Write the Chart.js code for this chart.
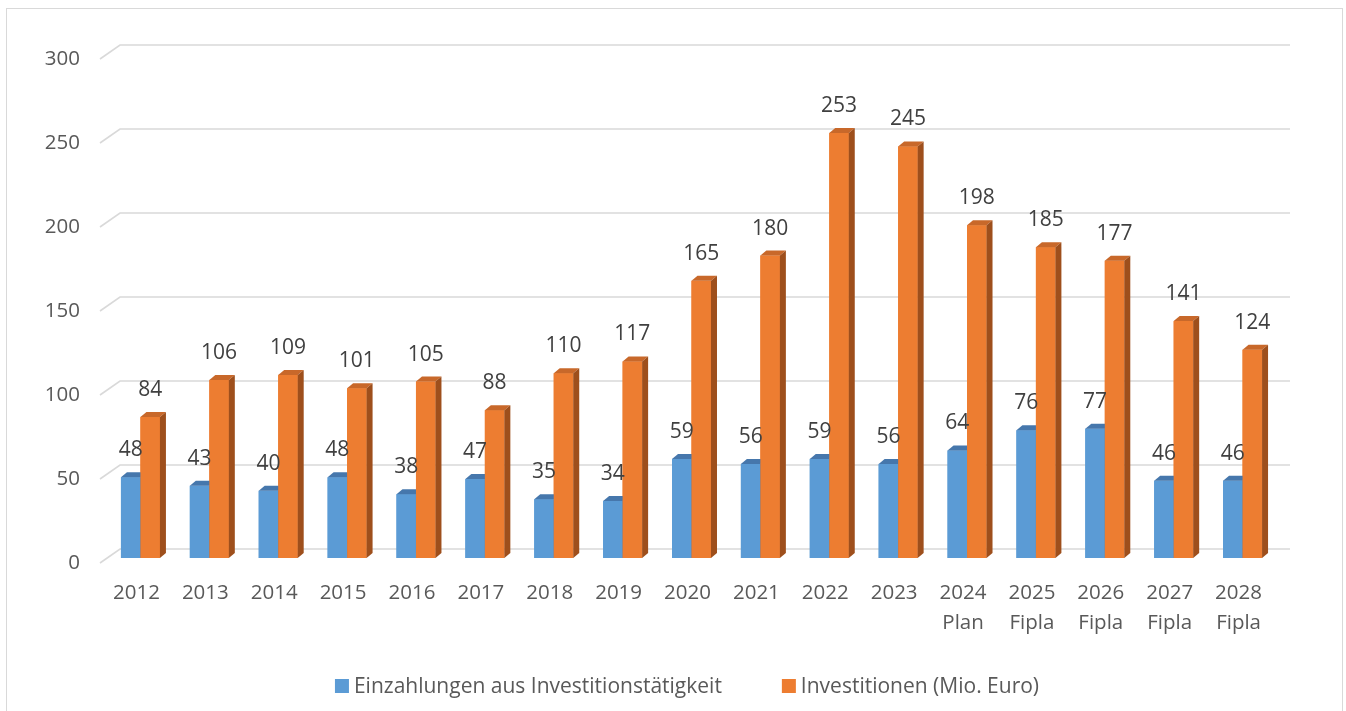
<!DOCTYPE html>
<html>
<head>
<meta charset="utf-8">
<script src="https://cdn.jsdelivr.net/npm/chart.js@4.4.0/dist/chart.umd.min.js"></script>
<style>
  html, body { margin: 0; padding: 0; background: #ffffff; }
  #wrap { position: relative; width: 1346px; height: 711px; }
</style>
</head>
<body>
<div id="wrap"><canvas id="c" width="1346" height="711"></canvas></div>
<script>
const categories = [
  ['2012'], ['2013'], ['2014'], ['2015'], ['2016'], ['2017'], ['2018'], ['2019'],
  ['2020'], ['2021'], ['2022'], ['2023'], ['2024', 'Plan'], ['2025', 'Fipla'],
  ['2026', 'Fipla'], ['2027', 'Fipla'], ['2028', 'Fipla']
];
const einzahlungen = [48, 43, 40, 48, 38, 47, 35, 34, 59, 56, 59, 56, 64, 76, 77, 46, 46];
const investitionen = [84, 106, 109, 101, 105, 88, 110, 117, 165, 180, 253, 245, 198, 185, 177, 141, 124];
const seriesNames = ['Einzahlungen aus Investitionstätigkeit', 'Investitionen (Mio. Euro)'];
const yTicks = [0, 50, 100, 150, 200, 250, 300];

const FONT = "'Open Sans', 'Noto Sans', sans-serif";
const TEXT = '#595959';
const LABEL = '#404040';
const GRID = '#d9d9d9';
const faces = [
  { front: '#5b9bd5', top: '#4677ac', side: '#3d6a9a' },
  { front: '#ed7d31', top: '#c8682a', side: '#9e4f1c' }
];
const DX = 6, DY = 5;

const framePlugin = {
  id: 'frame',
  beforeDraw(chart) {
    const ctx = chart.ctx;
    ctx.save();
    ctx.fillStyle = '#ffffff';
    ctx.fillRect(0, 0, chart.width, chart.height);
    ctx.strokeStyle = GRID;
    ctx.lineWidth = 1;
    ctx.strokeRect(6.5, 8.5, 1336, 720);
    ctx.restore();
  }
};

const wallGridPlugin = {
  id: 'wallGrid',
  beforeDatasetsDraw(chart) {
    const ctx = chart.ctx;
    const y = chart.scales.y;
    const area = chart.chartArea;
    ctx.save();
    ctx.strokeStyle = GRID;
    ctx.lineWidth = 1.6;
    y.ticks.forEach(t => {
      const py = y.getPixelForValue(t.value);
      ctx.beginPath();
      ctx.moveTo(area.left - 6, py + 5);
      ctx.lineTo(area.left + 14, py - 9);
      ctx.lineTo(area.right + 13, py - 9);
      ctx.stroke();
    });
    ctx.restore();
  }
};

const bars3dPlugin = {
  id: 'bars3d',
  afterDatasetsDraw(chart) {
    const ctx = chart.ctx;
    ctx.save();
    chart.data.datasets.forEach((ds, i) => {
      const meta = chart.getDatasetMeta(i);
      const f = faces[i];
      meta.data.forEach(bar => {
        const p = bar.getProps(['x', 'y', 'base', 'width'], true);
        const l = p.x - p.width / 2, r = p.x + p.width / 2, t = p.y, b = p.base;
        ctx.fillStyle = f.front;
        ctx.fillRect(l, t, r - l, b - t);
        ctx.fillStyle = f.top;
        ctx.beginPath();
        ctx.moveTo(l, t); ctx.lineTo(l + DX, t - DY); ctx.lineTo(r + DX, t - DY); ctx.lineTo(r, t);
        ctx.closePath(); ctx.fill();
        ctx.fillStyle = f.side;
        ctx.beginPath();
        ctx.moveTo(r, t); ctx.lineTo(r + DX, t - DY); ctx.lineTo(r + DX, b - DY); ctx.lineTo(r, b);
        ctx.closePath(); ctx.fill();
      });
    });
    ctx.fillStyle = LABEL;
    ctx.font = '21px ' + FONT;
    ctx.textAlign = 'center';
    ctx.textBaseline = 'middle';
    chart.data.datasets.forEach((ds, i) => {
      const meta = chart.getDatasetMeta(i);
      meta.data.forEach((bar, j) => {
        const p = bar.getProps(['x', 'y'], true);
        ctx.fillText(String(ds.data[j]), p.x, p.y - 27);
      });
    });
    ctx.restore();
  }
};

const legendPlugin = {
  id: 'customLegend',
  afterDraw(chart) {
    const ctx = chart.ctx;
    ctx.save();
    ctx.font = '21px ' + FONT;
    ctx.textBaseline = 'middle';
    ctx.textAlign = 'left';
    const box = 14, gapBox = 5, gapItem = 60;
    const items = chart.data.datasets.map(ds => ({ text: ds.label, color: ds.backgroundColor, w: ctx.measureText(ds.label).width }));
    let total = 0;
    items.forEach((it, k) => { total += box + gapBox + it.w + (k ? gapItem : 0); });
    let x = 687 - total / 2;
    const cy = 686;
    items.forEach(it => {
      ctx.fillStyle = it.color;
      ctx.fillRect(x, cy - box / 2, box, box);
      x += box + gapBox;
      ctx.fillStyle = TEXT;
      ctx.fillText(it.text, x, cy + 1);
      x += it.w + gapItem;
    });
    ctx.restore();
  }
};

new Chart(document.getElementById('c'), {
  type: 'bar',
  data: {
    labels: categories,
    datasets: [
      { label: seriesNames[0], data: einzahlungen, backgroundColor: faces[0].front },
      { label: seriesNames[1], data: investitionen, backgroundColor: faces[1].front }
    ]
  },
  options: {
    responsive: false,
    animation: false,
    devicePixelRatio: 1,
    layout: { padding: { left: 0, right: 69, top: 54, bottom: 0 } },
    datasets: { bar: { categoryPercentage: 0.566, barPercentage: 1.0 } },
    plugins: { legend: { display: false }, tooltip: { enabled: false } },
    scales: {
      x: {
        grid: { display: false, drawTicks: false },
        border: { display: false },
        ticks: {
          color: TEXT, font: { family: FONT, size: 20.5, lineHeight: 1.46 },
          padding: 20, labelOffset: -4, autoSkip: false, maxRotation: 0, minRotation: 0
        },
        afterFit(scale) { scale.height = 153; }
      },
      y: {
        min: 0, max: 300,
        grid: { display: false, drawTicks: false },
        border: { display: false },
        afterBuildTicks(scale) { scale.ticks = yTicks.map(v => ({ value: v })); },
        ticks: { color: TEXT, font: { family: FONT, size: 20.5 }, padding: 26, labelOffset: 5 },
        afterFit(scale) { scale.width = 106; }
      }
    }
  },
  plugins: [framePlugin, wallGridPlugin, bars3dPlugin, legendPlugin]
});
</script>
</body>
</html>
